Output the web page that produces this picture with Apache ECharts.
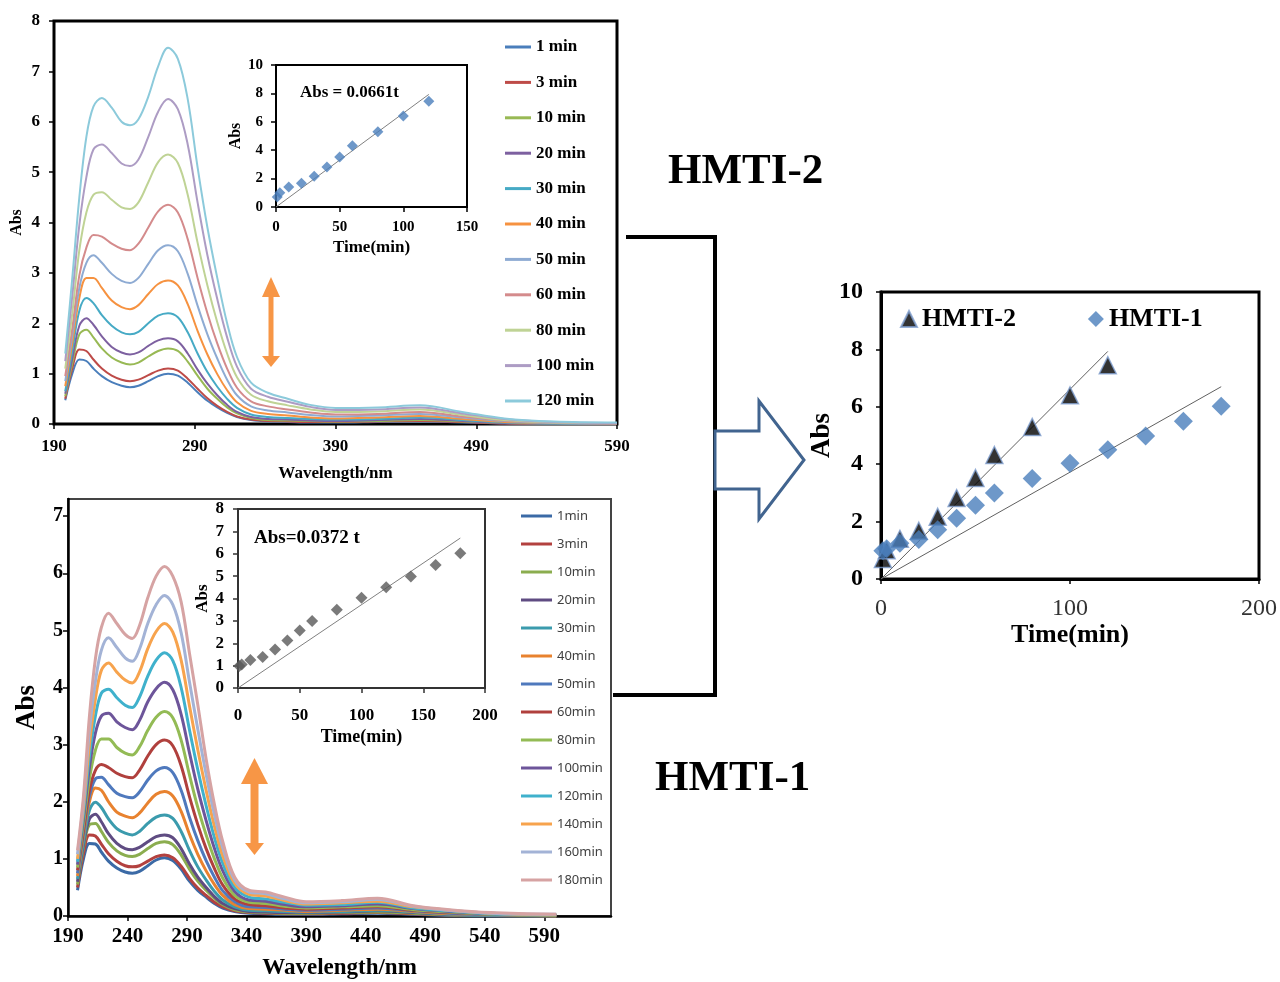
<!DOCTYPE html>
<html>
<head>
<meta charset="utf-8">
<script src="https://cdn.jsdelivr.net/npm/echarts@6/dist/echarts.min.js"></script>
<style>
html, body { margin: 0; padding: 0; background: #fff; }
#chart { width: 1280px; height: 982px; }
</style>
</head>
<body>
<div id="chart"></div>
<script>
// ---- data ----
// wavelengths (nm) where the spectra were sampled
var waveTop = [198, 203, 208, 213, 218, 224, 231, 238, 244, 250, 257, 264, 271, 278, 285, 292, 299, 306, 313, 320, 330, 342, 356, 372, 390, 420, 450, 480, 510, 545, 590];
var waveBottom = [198, 203, 208, 213, 218, 224, 231, 238, 244, 250, 257, 264, 271, 278, 285, 292, 299, 306, 313, 320, 330, 342, 356, 372, 390, 420, 450, 480, 510, 545, 600];

// HMTI-2 spectra (top panel)
var topNames = ['1 min', '3 min', '10 min', '20 min', '30 min', '40 min', '50 min', '60 min', '80 min', '100 min', '120 min'];
var topColors = ['#4a7ebb', '#be4b48', '#98b954', '#7d60a0', '#46aac5', '#f69240', '#8eabd3', '#d48b8c', '#bfd395', '#ad9cc4', '#8ccadb'];
var topSpectra = [
  [0.47, 1.0, 1.28, 1.25, 1.1, 0.95, 0.83, 0.76, 0.73, 0.76, 0.85, 0.95, 1.0, 0.96, 0.82, 0.63, 0.46, 0.33, 0.22, 0.14, 0.08, 0.05, 0.04, 0.03, 0.03, 0.04, 0.05, 0.03, 0.01, 0.0, 0.0],
  [0.5, 1.1, 1.48, 1.45, 1.28, 1.1, 0.96, 0.88, 0.85, 0.88, 0.97, 1.06, 1.1, 1.06, 0.9, 0.7, 0.51, 0.36, 0.24, 0.15, 0.09, 0.06, 0.05, 0.04, 0.04, 0.05, 0.06, 0.04, 0.01, 0.0, 0.0],
  [0.55, 1.2, 1.78, 1.87, 1.72, 1.5, 1.32, 1.22, 1.18, 1.22, 1.34, 1.45, 1.5, 1.45, 1.24, 0.96, 0.7, 0.5, 0.33, 0.21, 0.12, 0.08, 0.07, 0.06, 0.05, 0.06, 0.08, 0.05, 0.02, 0.01, 0.0],
  [0.6, 1.3, 1.95, 2.1, 1.97, 1.74, 1.53, 1.42, 1.38, 1.42, 1.55, 1.66, 1.7, 1.64, 1.4, 1.08, 0.8, 0.57, 0.38, 0.24, 0.14, 0.1, 0.09, 0.07, 0.06, 0.08, 0.1, 0.06, 0.02, 0.01, 0.0],
  [0.65, 1.45, 2.25, 2.5, 2.4, 2.16, 1.95, 1.82, 1.78, 1.83, 2.0, 2.15, 2.2, 2.12, 1.82, 1.4, 1.03, 0.74, 0.5, 0.32, 0.19, 0.14, 0.12, 0.1, 0.09, 0.1, 0.13, 0.08, 0.03, 0.01, 0.0],
  [0.75, 1.6, 2.5, 2.9, 2.9, 2.7, 2.45, 2.32, 2.28, 2.36, 2.58, 2.78, 2.85, 2.75, 2.38, 1.85, 1.38, 0.99, 0.67, 0.43, 0.26, 0.2, 0.17, 0.13, 0.11, 0.13, 0.16, 0.1, 0.04, 0.02, 0.01],
  [0.85, 1.75, 2.7, 3.2, 3.35, 3.2, 2.98, 2.84, 2.8, 2.9, 3.18, 3.45, 3.55, 3.43, 2.98, 2.35, 1.78, 1.3, 0.88, 0.57, 0.35, 0.27, 0.23, 0.18, 0.15, 0.17, 0.2, 0.13, 0.06, 0.02, 0.01],
  [0.95, 1.9, 2.95, 3.5, 3.75, 3.72, 3.58, 3.48, 3.45, 3.58, 3.9, 4.22, 4.35, 4.2, 3.67, 2.9, 2.2, 1.6, 1.1, 0.72, 0.45, 0.35, 0.29, 0.23, 0.19, 0.2, 0.24, 0.15, 0.07, 0.03, 0.01],
  [1.1, 2.2, 3.45, 4.2, 4.55, 4.6, 4.45, 4.3, 4.27, 4.4, 4.8, 5.2, 5.35, 5.18, 4.55, 3.6, 2.75, 2.02, 1.4, 0.93, 0.58, 0.45, 0.37, 0.29, 0.24, 0.25, 0.29, 0.18, 0.08, 0.03, 0.02],
  [1.25, 2.55, 3.95, 4.9, 5.45, 5.55, 5.38, 5.17, 5.12, 5.25, 5.7, 6.2, 6.45, 6.25, 5.55, 4.4, 3.35, 2.48, 1.72, 1.14, 0.7, 0.54, 0.44, 0.34, 0.28, 0.29, 0.33, 0.21, 0.1, 0.04, 0.02],
  [1.4, 2.9, 4.5, 5.7, 6.3, 6.47, 6.28, 6.0, 5.93, 6.05, 6.5, 7.1, 7.47, 7.25, 6.45, 5.1, 3.9, 2.9, 2.0, 1.33, 0.82, 0.62, 0.5, 0.38, 0.32, 0.33, 0.37, 0.24, 0.11, 0.05, 0.03]
];

// HMTI-1 spectra (bottom panel)
var bottomNames = ['1min', '3min', '10min', '20min', '30min', '40min', '50min', '60min', '80min', '100min', '120min', '140min', '160min', '180min'];
var bottomColors = ['#3b6aa6', '#b3413f', '#8bad4f', '#5f4c82', '#3b9bad', '#e8822f', '#4f79bd', '#b0403d', '#93bb55', '#6d559a', '#3fb1cc', '#f7a34d', '#a3b3d6', '#d6a3a3'];
var bottomSpectra = [
  [0.45, 1.0, 1.27, 1.26, 1.12, 0.96, 0.84, 0.77, 0.75, 0.78, 0.88, 0.98, 1.02, 0.97, 0.82, 0.61, 0.45, 0.33, 0.22, 0.14, 0.08, 0.05, 0.04, 0.03, 0.03, 0.04, 0.05, 0.03, 0.01, 0.0, 0.0],
  [0.5, 1.1, 1.42, 1.4, 1.26, 1.09, 0.96, 0.88, 0.86, 0.88, 0.96, 1.04, 1.07, 1.02, 0.87, 0.66, 0.49, 0.36, 0.24, 0.16, 0.09, 0.06, 0.05, 0.04, 0.04, 0.05, 0.06, 0.04, 0.02, 0.01, 0.0],
  [0.55, 1.2, 1.6, 1.62, 1.48, 1.29, 1.14, 1.06, 1.04, 1.08, 1.18, 1.27, 1.3, 1.25, 1.07, 0.82, 0.61, 0.45, 0.31, 0.2, 0.11, 0.07, 0.06, 0.05, 0.05, 0.06, 0.07, 0.05, 0.02, 0.01, 0.0],
  [0.6, 1.25, 1.7, 1.78, 1.65, 1.44, 1.27, 1.18, 1.16, 1.2, 1.3, 1.39, 1.42, 1.37, 1.18, 0.91, 0.68, 0.5, 0.34, 0.22, 0.13, 0.08, 0.07, 0.06, 0.06, 0.07, 0.09, 0.06, 0.03, 0.01, 0.0],
  [0.65, 1.3, 1.85, 1.99, 1.9, 1.7, 1.53, 1.45, 1.42, 1.48, 1.62, 1.73, 1.77, 1.71, 1.48, 1.15, 0.86, 0.63, 0.43, 0.28, 0.16, 0.1, 0.09, 0.08, 0.07, 0.08, 0.1, 0.07, 0.03, 0.01, 0.0],
  [0.7, 1.4, 2.0, 2.24, 2.2, 2.0, 1.82, 1.75, 1.72, 1.8, 1.98, 2.13, 2.18, 2.1, 1.83, 1.43, 1.08, 0.79, 0.55, 0.36, 0.2, 0.13, 0.12, 0.1, 0.08, 0.1, 0.12, 0.08, 0.04, 0.02, 0.0],
  [0.75, 1.45, 2.1, 2.4, 2.43, 2.3, 2.15, 2.09, 2.07, 2.17, 2.38, 2.54, 2.6, 2.51, 2.2, 1.73, 1.32, 0.97, 0.68, 0.44, 0.25, 0.16, 0.15, 0.12, 0.1, 0.12, 0.14, 0.09, 0.05, 0.02, 0.01],
  [0.8, 1.5, 2.2, 2.55, 2.65, 2.6, 2.5, 2.44, 2.42, 2.55, 2.8, 3.0, 3.08, 2.98, 2.63, 2.09, 1.6, 1.18, 0.83, 0.54, 0.3, 0.2, 0.18, 0.14, 0.12, 0.14, 0.16, 0.1, 0.06, 0.03, 0.01],
  [0.85, 1.6, 2.4, 2.9, 3.1, 3.1, 2.95, 2.85, 2.82, 2.96, 3.25, 3.48, 3.58, 3.47, 3.08, 2.47, 1.9, 1.42, 1.0, 0.66, 0.36, 0.24, 0.22, 0.17, 0.14, 0.16, 0.18, 0.11, 0.07, 0.03, 0.01],
  [0.9, 1.7, 2.6, 3.2, 3.5, 3.55, 3.4, 3.3, 3.26, 3.42, 3.75, 3.98, 4.09, 3.96, 3.53, 2.86, 2.22, 1.67, 1.18, 0.79, 0.43, 0.28, 0.26, 0.2, 0.16, 0.18, 0.21, 0.13, 0.08, 0.04, 0.02],
  [0.95, 1.8, 2.8, 3.5, 3.9, 3.97, 3.82, 3.69, 3.65, 3.83, 4.2, 4.48, 4.61, 4.47, 4.0, 3.26, 2.56, 1.93, 1.37, 0.92, 0.5, 0.33, 0.3, 0.24, 0.19, 0.2, 0.24, 0.14, 0.09, 0.04, 0.02],
  [1.0, 1.9, 3.0, 3.8, 4.3, 4.43, 4.27, 4.13, 4.08, 4.27, 4.68, 4.98, 5.12, 4.97, 4.48, 3.68, 2.91, 2.2, 1.57, 1.05, 0.57, 0.38, 0.35, 0.27, 0.21, 0.23, 0.26, 0.16, 0.1, 0.05, 0.02],
  [1.08, 2.0, 3.25, 4.1, 4.65, 4.87, 4.7, 4.52, 4.46, 4.67, 5.12, 5.45, 5.61, 5.45, 4.96, 4.1, 3.27, 2.48, 1.77, 1.19, 0.63, 0.42, 0.39, 0.3, 0.23, 0.25, 0.29, 0.17, 0.1, 0.05, 0.03],
  [1.15, 2.1, 3.5, 4.5, 5.05, 5.3, 5.12, 4.93, 4.86, 5.08, 5.57, 5.95, 6.12, 5.95, 5.5, 4.6, 3.7, 2.75, 1.95, 1.3, 0.68, 0.45, 0.42, 0.33, 0.25, 0.27, 0.31, 0.18, 0.11, 0.06, 0.03]
];

// kinetics (Abs at the band maximum vs. time)
var timeHMTI2 = [1, 3, 10, 20, 30, 40, 50, 60, 80, 100, 120];
var absHMTI2 = [0.7, 1.0, 1.4, 1.68, 2.17, 2.82, 3.52, 4.32, 5.3, 6.4, 7.45];
var timeHMTI1 = [1, 3, 10, 20, 30, 40, 50, 60, 80, 100, 120, 140, 160, 180];
var absHMTI1 = [0.98, 1.05, 1.25, 1.38, 1.72, 2.12, 2.57, 3.0, 3.5, 4.03, 4.5, 4.98, 5.5, 6.02];
// fitted lines Abs = k t, drawn from t = 0 to the last point
var fitHMTI2 = [[0, 0], [120, 7.93]];
var fitHMTI1 = [[0, 0], [180, 6.7]];

// ---- chart ----
var serif = "'Times New Roman', 'Liberation Serif', serif";
var sans = "'Noto Sans', 'Liberation Sans', sans-serif";

function axisStyle(size, weight, lineW, margin, color) {
  return {
    axisLine: { show: true, onZero: false, lineStyle: { color: color || '#000', width: lineW || 2 } },
    axisTick: { show: true, length: 5, lineStyle: { color: color || '#000', width: 1.5 } },
    splitLine: { show: false },
    axisLabel: { fontFamily: serif, fontSize: size, fontWeight: weight, color: '#000', margin: margin }
  };
}
function nameStyle(size) {
  return { fontFamily: serif, fontSize: size, fontWeight: 'bold', color: '#000' };
}
function pairs(xs, ys) {
  return xs.map(function (x, i) { return [x, ys[i]]; });
}

var series = [];
topNames.forEach(function (n, i) {
  series.push({
    name: n, type: 'line', xAxisIndex: 0, yAxisIndex: 0,
    data: pairs(waveTop, topSpectra[i]), smooth: 0.35, showSymbol: false, silent: true,
    lineStyle: { width: 2, color: topColors[i] }, itemStyle: { color: topColors[i] }, z: 2
  });
});
bottomNames.forEach(function (n, i) {
  series.push({
    name: n, type: 'line', xAxisIndex: 2, yAxisIndex: 2,
    data: pairs(waveBottom, bottomSpectra[i]), smooth: 0.35, showSymbol: false, silent: true,
    lineStyle: { width: 3, color: bottomColors[i] }, itemStyle: { color: bottomColors[i] }, z: 2
  });
});
// insets
series.push({ name: 'fit2', type: 'line', xAxisIndex: 1, yAxisIndex: 1, data: fitHMTI2, showSymbol: false,
  lineStyle: { color: '#808080', width: 1 }, z: 5 });
series.push({ name: 'inset2', type: 'scatter', xAxisIndex: 1, yAxisIndex: 1, data: pairs(timeHMTI2, absHMTI2),
  symbol: 'diamond', symbolSize: 11, itemStyle: { color: '#4a7ebb' }, z: 6 });
series.push({ name: 'fit1', type: 'line', xAxisIndex: 3, yAxisIndex: 3, data: fitHMTI1, showSymbol: false,
  lineStyle: { color: '#808080', width: 1 }, z: 5 });
series.push({ name: 'inset1', type: 'scatter', xAxisIndex: 3, yAxisIndex: 3, data: pairs(timeHMTI1, absHMTI1),
  symbol: 'diamond', symbolSize: 12, itemStyle: { color: '#595959' }, z: 6 });
// comparison panel
series.push({ name: 'fitR2', type: 'line', xAxisIndex: 4, yAxisIndex: 4, data: fitHMTI2, showSymbol: false,
  lineStyle: { color: '#606060', width: 1 }, z: 5 });
series.push({ name: 'fitR1', type: 'line', xAxisIndex: 4, yAxisIndex: 4, data: fitHMTI1, showSymbol: false,
  lineStyle: { color: '#606060', width: 1 }, z: 5 });
series.push({ name: 'HMTI-2', type: 'scatter', xAxisIndex: 4, yAxisIndex: 4, data: pairs(timeHMTI2, absHMTI2),
  symbol: 'triangle', symbolSize: 17, itemStyle: { color: '#000', borderColor: '#7f9fd0', borderWidth: 1.5 }, z: 6 });
series.push({ name: 'HMTI-1', type: 'scatter', xAxisIndex: 4, yAxisIndex: 4, data: pairs(timeHMTI1, absHMTI1),
  symbol: 'diamond', symbolSize: 19, itemStyle: { color: '#4a7ebb' }, z: 7 });

var orange = '#f79646';
var option = {
  animation: false,
  backgroundColor: '#fff',
  grid: [
    { left: 54, top: 21, width: 563, height: 403, show: true, borderColor: '#000', borderWidth: 3 },
    { left: 276, top: 65, width: 191, height: 142, show: true, borderColor: '#000', borderWidth: 2, backgroundColor: '#fff', z: 3 },
    { left: 68, top: 499, width: 543, height: 417, show: true, borderColor: '#444', borderWidth: 2 },
    { left: 238, top: 509, width: 247, height: 179, show: true, borderColor: '#333', borderWidth: 2, backgroundColor: '#fff', z: 3 },
    { left: 881, top: 292, width: 379, height: 287, show: true, borderColor: '#000', borderWidth: 3 }
  ],
  xAxis: [
    Object.assign({ gridIndex: 0, type: 'value', min: 190, max: 590, interval: 100,
      name: 'Wavelength/nm', nameLocation: 'middle', nameGap: 41, nameTextStyle: nameStyle(17) },
      axisStyle(17, 'bold', 2, 14)),
    Object.assign({ gridIndex: 1, type: 'value', min: 0, max: 150, interval: 50,
      name: 'Time(min)', nameLocation: 'middle', nameGap: 32, nameTextStyle: nameStyle(17) },
      axisStyle(15, 'bold', 2, 13)),
    Object.assign({ gridIndex: 2, type: 'value', min: 190, max: 646, interval: 50,
      name: 'Wavelength/nm', nameLocation: 'middle', nameGap: 41, nameTextStyle: nameStyle(23) },
      axisStyle(21, 'bold', 2.5, 10)),
    Object.assign({ gridIndex: 3, type: 'value', min: 0, max: 200, interval: 50,
      name: 'Time(min)', nameLocation: 'middle', nameGap: 40, nameTextStyle: nameStyle(18) },
      axisStyle(17, 'bold', 2, 19, '#333')),
    Object.assign({ gridIndex: 4, type: 'value', min: 0, max: 200, interval: 100,
      name: 'Time(min)', nameLocation: 'middle', nameGap: 38, nameTextStyle: nameStyle(26) },
      axisStyle(24, 'normal', 3, 18))
  ],
  yAxis: [
    Object.assign({ gridIndex: 0, type: 'value', min: 0, max: 8, interval: 1,
      name: 'Abs', nameLocation: 'middle', nameGap: 29, nameTextStyle: nameStyle(16) },
      axisStyle(17, 'bold', 2, 14)),
    Object.assign({ gridIndex: 1, type: 'value', min: 0, max: 10, interval: 2,
      name: 'Abs', nameLocation: 'middle', nameGap: 27, nameTextStyle: nameStyle(16) },
      axisStyle(15, 'bold', 2, 13)),
    Object.assign({ gridIndex: 2, type: 'value', min: 0, max: 7.3, interval: 1,
      name: 'Abs', nameLocation: 'middle', nameGap: 27, nameTextStyle: nameStyle(27) },
      axisStyle(20, 'bold', 2.5, 5)),
    Object.assign({ gridIndex: 3, type: 'value', min: 0, max: 8, interval: 1,
      name: 'Abs', nameLocation: 'middle', nameGap: 26, nameTextStyle: nameStyle(17) },
      axisStyle(17, 'bold', 2, 14, '#333')),
    Object.assign({ gridIndex: 4, type: 'value', min: 0, max: 10, interval: 2,
      name: 'Abs', nameLocation: 'middle', nameGap: 40, nameTextStyle: nameStyle(27) },
      axisStyle(24, 'bold', 3, 18))
  ],
  legend: [
    { data: topNames, orient: 'vertical', left: 505, top: 37, padding: 0, itemWidth: 26, itemHeight: 3, icon: 'rect',
      itemGap: 15.4, selectedMode: false,
      textStyle: { fontFamily: serif, fontSize: 17, fontWeight: 'bold', color: '#000', lineHeight: 20 } },
    { data: bottomNames, orient: 'vertical', left: 521, top: 508, padding: 0, itemWidth: 31, itemHeight: 3, icon: 'rect',
      itemGap: 12, selectedMode: false,
      textStyle: { fontFamily: sans, fontSize: 13, color: '#404040', lineHeight: 16 } },
    { data: [{ name: 'HMTI-2', icon: 'triangle' }, { name: 'HMTI-1', icon: 'diamond' }],
      orient: 'horizontal', left: 900, top: 306, padding: 0, itemWidth: 16, itemHeight: 16, itemGap: 72, selectedMode: false,
      textStyle: { fontFamily: serif, fontSize: 26, fontWeight: 'bold', color: '#000' } }
  ],
  graphic: [
    { type: 'text', left: 300, top: 84, z: 20,
      style: { text: 'Abs = 0.0661t', font: 'bold 17px ' + serif, fill: '#000' } },
    { type: 'text', left: 254, top: 529, z: 20,
      style: { text: 'Abs=0.0372 t', font: 'bold 19px ' + serif, fill: '#000' } },
    { type: 'text', left: 668, top: 150, z: 20,
      style: { text: 'HMTI-2', font: 'bold 43px ' + serif, fill: '#000' } },
    { type: 'text', left: 655, top: 757, z: 20,
      style: { text: 'HMTI-1', font: 'bold 43px ' + serif, fill: '#000' } },
    // bracket joining the two spectra
    { type: 'polyline', z: 20,
      shape: { points: [[626, 237], [715, 237], [715, 695], [613, 695]] },
      style: { stroke: '#000', lineWidth: 4, fill: null } },
    // hollow block arrow
    { type: 'polygon', z: 21,
      shape: { points: [[715, 431], [759, 431], [759, 401], [804, 460], [759, 519], [759, 489], [715, 489]] },
      style: { stroke: '#41648f', lineWidth: 3, fill: '#fff' } },
    // orange arrows
    { type: 'polygon', z: 20, shape: { points: [[271, 277], [280, 297], [262, 297]] }, style: { fill: orange } },
    { type: 'rect', z: 20, shape: { x: 268.5, y: 296, width: 5, height: 62 }, style: { fill: orange } },
    { type: 'polygon', z: 20, shape: { points: [[262, 356], [280, 356], [271, 367]] }, style: { fill: orange } },
    { type: 'polygon', z: 20, shape: { points: [[254.5, 758], [268, 784], [241, 784]] }, style: { fill: orange } },
    { type: 'rect', z: 20, shape: { x: 250.5, y: 783, width: 8, height: 62 }, style: { fill: orange } },
    { type: 'polygon', z: 20, shape: { points: [[245, 843], [264, 843], [254.5, 855]] }, style: { fill: orange } }
  ],
  series: series
};

// bottom panel: ticks and labels only at the printed wavelengths
var bottomTicks = [190, 240, 290, 340, 390, 440, 490, 540, 590];
option.xAxis[2].axisTick.customValues = bottomTicks;
option.xAxis[2].axisLabel.customValues = bottomTicks;
option.yAxis[2].axisTick.customValues = [0, 1, 2, 3, 4, 5, 6, 7];
option.yAxis[2].axisLabel.customValues = [0, 1, 2, 3, 4, 5, 6, 7];
option.xAxis[4].axisLabel.color = '#333';

var myChart = echarts.init(document.getElementById('chart'));
myChart.setOption(option);
</script>
</body>
</html>
